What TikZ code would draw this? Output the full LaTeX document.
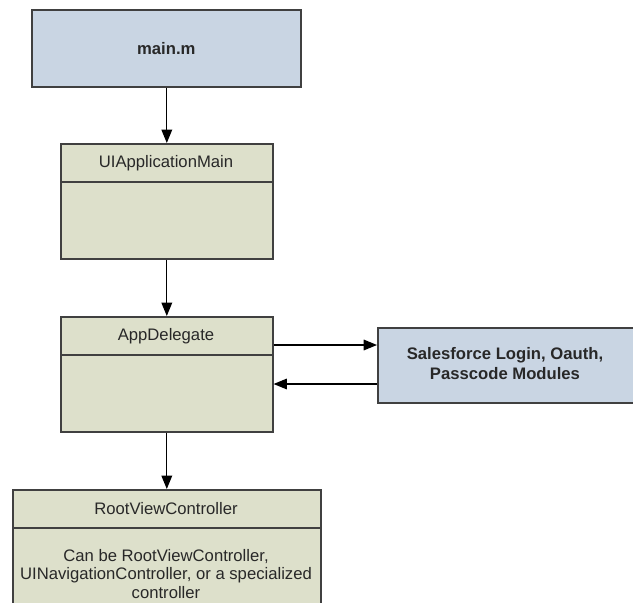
\documentclass[tikz,border=0pt]{standalone}
\usepackage{fontspec}
\setmainfont{Liberation Sans}
\usetikzlibrary{arrows.meta}
\definecolor{bluefill}{RGB}{201,213,227}
\definecolor{greenfill}{RGB}{221,224,203}
\definecolor{frame}{RGB}{64,64,64}
\definecolor{ink}{RGB}{40,40,40}
\tikzset{
  box/.style={draw=frame, line width=1.2pt, rectangle, inner sep=0pt, anchor=north west},
  bluebox/.style={box, fill=bluefill},
  greenbox/.style={box, fill=greenfill},
  divider/.style={draw=frame, line width=1.2pt},
  label/.style={text=ink, font=\fontsize{12.5pt}{15pt}\selectfont, inner sep=0pt},
  boldlabel/.style={label, font=\fontsize{12.5pt}{15pt}\selectfont\bfseries},
  flow/.style={draw=black, line width=0.9pt, -{Triangle[length=10pt,width=8pt]}}
}
\begin{document}
\begin{tikzpicture}[x=0.75pt,y=-0.75pt]
  \useasboundingbox (0,0) rectangle (633,603);
  \clip (0,0) rectangle (633,603);

  % entry point
  \node[bluebox, minimum width=269*0.75pt, minimum height=77*0.75pt] (main) at (31,9) {};
  \node[boldlabel] (maint) at (main.center) {main.m};

  % UIApplicationMain
  \node[greenbox, minimum width=212*0.75pt, minimum height=115*0.75pt] (uia) at (60,143) {};
  \draw[divider] (uia.west |- 0,182) -- (uia.east |- 0,182);
  \node[label] (uiat) at (166,163) {UIApplicationMain};

  % AppDelegate
  \node[greenbox, minimum width=212*0.75pt, minimum height=115*0.75pt] (ad) at (60,316) {};
  \draw[divider] (ad.west |- 0,355) -- (ad.east |- 0,355);
  \node[label] (adt) at (166,336) {AppDelegate};

  % Salesforce modules
  \node[bluebox, minimum width=280*0.75pt, minimum height=75*0.75pt] (sf) at (377,327) {};
  \node[boldlabel, align=center] (sft) at (505,364) {Salesforce Login, Oauth,\\Passcode Modules};

  % RootViewController
  \node[greenbox, minimum width=308*0.75pt, minimum height=140*0.75pt] (rvc) at (12,489) {};
  \draw[divider] (rvc.west |- 0,528) -- (rvc.east |- 0,528);
  \node[label] (rvct) at (166,509) {RootViewController};
  \node[label, align=center, font=\fontsize{12.5pt}{14.2pt}\selectfont] (rvcb) at (166,574)
    {Can be RootViewController,\\UINavigationController, or a specialized\\controller};

  % connectors
  \draw[flow] (main.south -| uia.north) -- (uia.north);
  \draw[flow] (uia.south) -- (ad.north);
  \draw[flow] (ad.south) -- (rvc.north -| ad.south);
  \draw[flow] (ad.east |- 0,345) -- (sf.west |- 0,345);
  \draw[flow] (sf.west |- 0,384) -- (ad.east |- 0,384);
\end{tikzpicture}
\end{document}
